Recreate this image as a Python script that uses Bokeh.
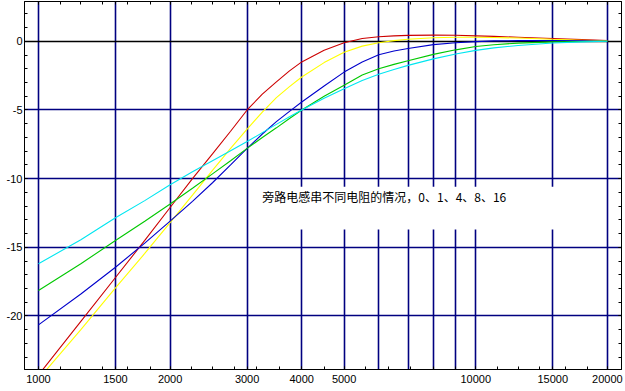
from bokeh.plotting import figure
from bokeh.models import (LogAxis, LinearAxis, FixedTicker, Range1d, Grid,
                          BoxAnnotation, Label, CustomJSTickFormatter)
from bokeh.embed import file_html
from bokeh.resources import INLINE

# ---- data ----
freq = [1000, 1250, 1500, 1750, 2000, 2250, 2500, 2750, 3000, 3250, 3500, 3750,
        4000, 4500, 5000, 5500, 6000, 6500, 7000, 8000, 9000, 10000, 11000,
        12500, 15000, 17500, 20000]
r_0 = [-24.3, -20.4, -17.2, -14.5, -12.1, -10.0, -8.2, -6.55, -5.0, -3.85, -2.95,
       -2.15, -1.5, -0.65, -0.1, 0.2, 0.33, 0.4, 0.43, 0.45, 0.44, 0.4, 0.36,
       0.3, 0.2, 0.12, 0.05]
r_1 = [-24.6, -21.0, -17.95, -15.45, -13.2, -11.2, -9.4, -7.8, -6.4, -5.15, -4.1,
       -3.3, -2.6, -1.55, -0.8, -0.35, -0.1, 0.05, 0.15, 0.26, 0.3, 0.3, 0.28,
       0.24, 0.15, 0.08, 0.03]
r_4 = [-20.65, -18.4, -16.45, -14.7, -13.1, -11.65, -10.3, -9.0, -7.8, -6.75, -5.85,
       -5.1, -4.42, -3.25, -2.24, -1.5, -0.98, -0.7, -0.52, -0.24, -0.1, -0.02,
       0.03, 0.05, 0.05, 0.03, 0.0]
r_8 = [-18.15, -16.2, -14.5, -13.1, -11.85, -10.7, -9.65, -8.7, -7.8, -7.0, -6.3,
       -5.62, -5.0, -4.0, -3.2, -2.45, -2.0, -1.68, -1.42, -0.95, -0.62, -0.38,
       -0.25, -0.13, -0.04, -0.01, 0.0]
r_16 = [-16.2, -14.45, -12.85, -11.6, -10.45, -9.5, -8.7, -7.97, -7.3, -6.65, -6.05,
        -5.5, -5.0, -4.15, -3.45, -2.85, -2.4, -2.05, -1.75, -1.28, -0.92, -0.66,
        -0.48, -0.3, -0.12, -0.04, 0.0]

series_names = ["0", "1", "4", "8", "16"]
series_colors = ["#CC0000", "#FFFF00", "#0000CC", "#00C800", "#00E6F0"]

x_label_ticks = [1000, 1500, 2000, 3000, 4000, 5000, 10000, 15000, 20000]
x_grid_ticks = [1000, 1500, 2000, 3000, 4000, 5000, 6000, 7000, 8000, 9000,
                10000, 15000, 20000]
x_minor_ticks = [1000, 1120, 1250, 1400, 1600, 1800, 2000, 2240, 2500, 2800,
                 3150, 3550, 4000, 4500, 5000, 5600, 6300, 7100, 8000, 9000,
                 10000, 11200, 12500, 14000, 16000, 18000, 20000]
y_major_ticks = [-20, -15, -10, -5, 0]
y_grid_ticks = [-20, -15, -10, -5]
y_zero = [0]
y_minor_ticks = list(range(-23, 3))

note_text = "旁路电感串不同电阻的情况，0、1、4、8、16"
note_pos = (3250, -11.3)
note_box = dict(left=3100, right=17500, top=-10.6, bottom=-13.7)

# ---- figure ----
p = figure(width=624, height=390, x_axis_type="log",
           x_range=Range1d(929, 21544), y_range=Range1d(-23.9, 2.9),
           output_backend="svg", toolbar_location=None,
           x_axis_location=None, y_axis_location=None,
           min_border_left=24, min_border_right=3, min_border_top=1,
           min_border_bottom=21)
p.background_fill_color = "white"
p.border_fill_color = "white"
p.outline_line_color = "black"
p.outline_line_width = 1
for g in p.grid:
    g.visible = False

NAVY = "#000080"
FONT = "Liberation Sans"

gx = Grid(dimension=0, ticker=FixedTicker(ticks=x_grid_ticks),
          grid_line_color=NAVY, grid_line_width=1.6)
gy = Grid(dimension=1, ticker=FixedTicker(ticks=y_grid_ticks),
          grid_line_color=NAVY, grid_line_width=1.6)
g0 = Grid(dimension=1, ticker=FixedTicker(ticks=y_zero),
          grid_line_color="black", grid_line_width=1.6)
p.add_layout(gx)
p.add_layout(gy)
p.add_layout(g0)

box = BoxAnnotation(fill_color="white", fill_alpha=1.0, line_color=None,
                    level="underlay", **note_box)
p.add_layout(box)


def style_axis(ax, show_labels):
    ax.axis_line_color = "black"
    ax.major_tick_in = 3
    ax.major_tick_out = 0
    ax.minor_tick_in = 3
    ax.minor_tick_out = 0
    ax.major_tick_line_color = "black"
    ax.minor_tick_line_color = "black"
    ax.major_label_text_font = FONT
    ax.major_label_text_font_size = "11px"
    ax.major_label_text_color = "black"
    ax.major_label_standoff = 5
    if not show_labels:
        ax.formatter = CustomJSTickFormatter(code="return ''")
        ax.major_label_standoff = 0


xt = FixedTicker(ticks=x_label_ticks, minor_ticks=x_minor_ticks)
bottom = LogAxis(ticker=xt,
                 formatter=CustomJSTickFormatter(code="return tick.toFixed(0)"))
style_axis(bottom, True)
p.add_layout(bottom, "below")

top = LogAxis(ticker=FixedTicker(ticks=x_label_ticks, minor_ticks=x_minor_ticks))
style_axis(top, False)
p.add_layout(top, "above")

yt = FixedTicker(ticks=y_major_ticks, minor_ticks=y_minor_ticks)
left = LinearAxis(ticker=yt,
                  formatter=CustomJSTickFormatter(code="return tick.toFixed(0)"))
style_axis(left, True)
left.major_label_standoff = 2
p.add_layout(left, "left")

right = LinearAxis(ticker=FixedTicker(ticks=y_major_ticks, minor_ticks=y_minor_ticks))
style_axis(right, False)
p.add_layout(right, "right")

for ys, name, col in zip([r_0, r_1, r_4, r_8, r_16], series_names, series_colors):
    p.line(freq, ys, line_color=col, line_width=1.1)

p.add_layout(Label(x=note_pos[0], y=note_pos[1], text=note_text,
                   text_font="Noto Sans CJK SC", text_font_size="12px",
                   text_baseline="middle", text_color="black"))

open("out.html", "w").write(file_html(p, INLINE))
